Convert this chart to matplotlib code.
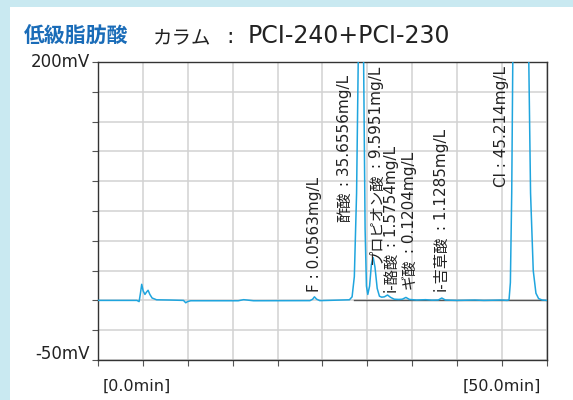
import matplotlib
matplotlib.use("Agg")
import matplotlib.pyplot as plt

plt.rcParams['font.family'] = ['DejaVu Sans', 'Noto Sans CJK JP']

# chromatogram trace: retention time (min) and signal (mV)
time_min = [0.0, 4.3, 4.55, 4.7, 4.84, 5.0, 5.2, 5.38, 5.55, 5.75, 6.0, 6.5, 8.0, 9.5,
            9.75, 9.95, 10.3, 15.6, 16.2, 16.6, 17.3, 23.6, 23.9, 24.1, 24.35, 24.7,
            28.0, 28.3, 28.55, 28.8, 29.0, 29.3, 29.55, 29.75, 29.9, 30.05,
            30.25, 30.45, 30.65, 30.85, 31.1, 31.35, 31.6,
            31.9, 32.25, 32.6, 33.0, 33.5, 33.9, 34.3, 34.7, 35.5, 36.5, 37.2,
            37.9, 38.3, 38.7, 40.0, 42.0, 43.0, 45.0, 45.6,
            45.8, 45.95, 46.1, 46.25, 46.6, 47.1, 47.6, 47.95, 48.2, 48.5, 48.8, 49.1, 49.5, 50.0]
signal_mv = [0.0, 0.0, -1.0, 6.0, 13.5, 8.0, 5.0, 7.0, 8.5, 5.0, 2.0, 0.5, 0.3, 0.0,
             -2.0, -1.0, -0.3, -0.3, 0.6, 0.3, -0.3, -0.2, 1.0, 3.0, 1.0, -0.2,
             0.5, 3.0, 20.0, 90.0, 210.0, 480.0, 230.0, 60.0, 12.0, 5.0,
             12.0, 30.0, 36.0, 28.0, 10.0, 3.5, 2.7,
             3.0, 4.5, 2.5, 1.0, 0.8, 1.0, 2.5, 0.8, 0.3, 0.6, 0.2,
             0.3, 2.0, 0.3, 0.0, 0.3, 0.0, 0.3, 0.0,
             0.5, 15.0, 90.0, 230.0, 700.0, 850.0, 700.0, 230.0, 90.0, 25.0, 6.0, 1.5, 0.3, 0.0]

# peak annotations: compound name, concentration, label position (min, mV at label foot)
peak_names = ['F', '酢酸', 'プロピオン酸', 'i-酪酸', 'ギ酸', 'i-吉草酸', 'Cl']
peak_conc = ['0.0563mg/L', '35.6556mg/L', '9.5951mg/L', '1.5754mg/L', '0.1204mg/L',
             '1.1285mg/L', '45.214mg/L']
label_time = [24.15, 27.5, 31.0, 32.65, 34.7, 38.28, 44.97]
label_mv = [7.1, 65.9, 30.5, 7.1, 9.6, 8.0, 95.2]

fig = plt.figure(figsize=(5.73, 4.0), dpi=100)
fig.patch.set_facecolor('#c9e9f1')
fig.add_artist(plt.Rectangle((10 / 573, 0), 1, 1 - 7 / 400, transform=fig.transFigure,
                             facecolor='white', edgecolor='none', zorder=0))

ax = fig.add_axes([98.3 / 573, 40 / 400, 448.4 / 573, 298 / 400])
ax.set_xlim(0, 50)
ax.set_ylim(-50, 200)
ax.set_xticks([i * 5 for i in range(11)])
ax.set_yticks([-50 + i * 25 for i in range(11)])
ax.set_xticklabels([])
ax.set_yticklabels([])
ax.grid(True, color='#d2d2d2', linewidth=1.1)
ax.set_axisbelow(True)
ax.tick_params(length=4, width=0.8, color='#555555', direction='out')
for s in ax.spines.values():
    s.set_color('#333333')
    s.set_linewidth(1.0)

ax.plot([28.5, 50], [0, 0], color='#555555', linewidth=1.0, zorder=2)
ax.plot(time_min, signal_mv, color='#1fa5de', linewidth=1.1, zorder=3)

for name, conc, t, v in zip(peak_names, peak_conc, label_time, label_mv):
    if name.isascii():
        ax.text(t, v, name + ' : ' + conc, rotation=90, ha='center', va='bottom',
                fontsize=11, color='#222222', zorder=4)
    else:
        # Japanese name in its own face, concentration continues above it
        head = ax.text(t, v, name, rotation=90, ha='center', va='bottom', fontsize=11,
                       family='Noto Sans CJK JP', color='#222222', zorder=4)
        ax.annotate(' : ' + conc, xy=(0.5, 1.0), xycoords=head, rotation=90,
                    ha='center', va='bottom', fontsize=11, color='#222222', zorder=4)

ax.text(-0.0185, 200, '200mV', transform=ax.get_yaxis_transform(), ha='right',
        va='center', fontsize=12, color='#222222')
ax.text(-0.0185, -49, '-50mV', transform=ax.get_yaxis_transform(), ha='right',
        va='baseline', fontsize=12, color='#222222')
ax.text(0.086, -0.1023, '[0.0min]', transform=ax.transAxes, ha='center', va='baseline',
        fontsize=11.5, color='#222222')
ax.text(0.900, -0.1023, '[50.0min]', transform=ax.transAxes, ha='center', va='baseline',
        fontsize=11.5, color='#222222')

title_y = 1 - 43 / 400
fig.text(24 / 573, title_y, '低級脂肪酸', ha='left', va='baseline', fontsize=15,
         fontweight='bold', family='Noto Sans CJK JP', color='#1a6cb8')
fig.text(153 / 573, title_y, 'カラム', ha='left', va='baseline', fontsize=14,
         family='Noto Sans CJK JP', color='#222222')
fig.text(226 / 573, title_y, ':', ha='left', va='baseline', fontsize=16, color='#222222')
fig.text(248 / 573, title_y, 'PCI-240+PCI-230', ha='left', va='baseline', fontsize=17,
         color='#222222')

fig.savefig('out.png', dpi=100)
